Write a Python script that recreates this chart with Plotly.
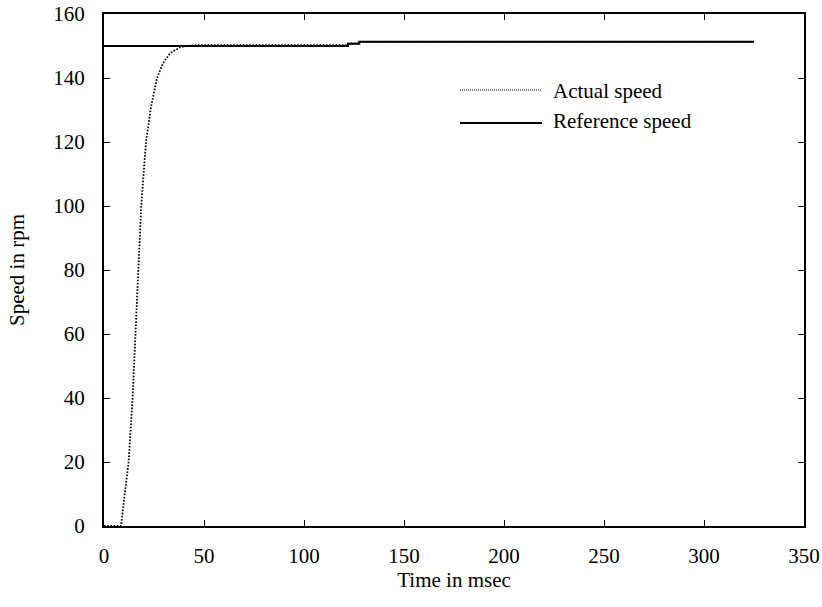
import plotly.graph_objects as go

# Actual speed (rpm) vs time (msec)
actual_t = [0, 8.5, 9.8, 12.3, 14.3, 15.8, 17.2, 18.6, 21, 23.5, 26.5, 29.5, 33, 38, 44, 50,
            122, 122.5, 127.6, 128, 325]
actual_v = [0, 0, 7, 20, 40, 60, 80, 100, 120, 131, 140, 144.6, 147.7, 149.6, 150.2, 150.3,
            150.3, 150.8, 150.8, 151.3, 151.3]

# Reference speed (rpm) vs time (msec)
ref_t = [0, 122, 122, 127.6, 127.6, 325]
ref_v = [150, 150, 150.7, 150.7, 151.3, 151.3]

legend_names = ["Actual speed", "Reference speed"]
x_ticks = [0, 50, 100, 150, 200, 250, 300, 350]
y_ticks = [0, 20, 40, 60, 80, 100, 120, 140, 160]

FONT = "Liberation Serif, Times New Roman, serif"

fig = go.Figure()
fig.add_trace(go.Scatter(x=ref_t, y=ref_v, mode="lines", name=legend_names[1],
                         line=dict(color="black", width=2), showlegend=False))
fig.add_trace(go.Scatter(x=actual_t, y=actual_v, mode="lines", name=legend_names[0],
                         line=dict(color="black", width=1.8, dash="1.6px,1.6px"), showlegend=False))

W, H = 822, 607
L, R, T, B = 104, 18, 14, 81
pw, ph = W - L - R, H - T - B


def px(x):
    return (x - L) / pw


def py(y):
    return (H - B - y) / ph


# manual legend
fig.add_shape(type="line", xref="paper", yref="paper", x0=px(460), x1=px(542), y0=py(90), y1=py(90),
              line=dict(color="black", width=1.2, dash="1px,1px"))
fig.add_shape(type="line", xref="paper", yref="paper", x0=px(460), x1=px(542), y0=py(123), y1=py(123),
              line=dict(color="black", width=2))
fig.add_annotation(xref="paper", yref="paper", x=px(551), y=py(91), text=legend_names[0],
                   showarrow=False, xanchor="left", yanchor="middle",
                   font=dict(family=FONT, size=21, color="black"))
fig.add_annotation(xref="paper", yref="paper", x=px(551), y=py(121), text=legend_names[1],
                   showarrow=False, xanchor="left", yanchor="middle",
                   font=dict(family=FONT, size=21, color="black"))

axis_common = dict(showgrid=False, zeroline=False, showline=True, linecolor="black", linewidth=2,
                   mirror="ticks", ticks="inside", ticklen=6, tickwidth=1, tickcolor="black",
                   tickfont=dict(family=FONT, size=21, color="black"))

fig.update_xaxes(range=[0, 350], tickvals=x_ticks, ticktext=[str(v) for v in x_ticks],
                 title=dict(text="Time in msec", font=dict(family=FONT, size=21, color="black"),
                            standoff=5),
                 ticklabelstandoff=10, **axis_common)
fig.update_yaxes(range=[0, 160], tickvals=y_ticks, ticktext=[str(v) for v in y_ticks],
                 title=dict(text="Speed in rpm", font=dict(family=FONT, size=21, color="black"),
                            standoff=23),
                 ticklabelstandoff=13, **axis_common)

fig.update_layout(width=W, height=H, margin=dict(l=L, r=R, t=T, b=B, autoexpand=False),
                  paper_bgcolor="white", plot_bgcolor="white", showlegend=False,
                  font=dict(family=FONT, color="black"))

fig.write_html("out.html")
